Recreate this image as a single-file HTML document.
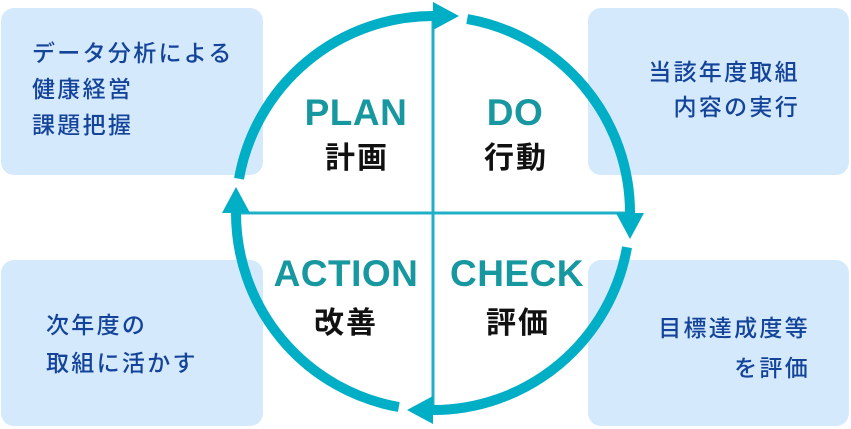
<!DOCTYPE html>
<html><head><meta charset="utf-8"><style>
body{margin:0;width:851px;height:429px;background:#fff;position:relative;overflow:hidden;font-family:"Liberation Sans","Noto Sans CJK JP",sans-serif}
.box{position:absolute;background:#d5e9fd;border-radius:13px}
.t{position:absolute;color:#13449a;font-size:23px;line-height:23px;letter-spacing:2.3px;white-space:nowrap;font-weight:500;font-family:"Liberation Sans","Noto Sans CJK JP",sans-serif}
.en{position:absolute;color:#17979f;font-weight:bold;font-size:37px;line-height:37px;width:200px;text-align:center;letter-spacing:0.5px}
.jp{position:absolute;color:#111;font-weight:bold;font-size:30px;line-height:30px;width:200px;text-align:center;font-family:"Noto Sans CJK JP",sans-serif;letter-spacing:2px}
svg{position:absolute;left:0;top:0}
</style></head><body>
<div class="box" style="left:1px;top:8px;width:262px;height:167px"></div>
<div class="box" style="left:1px;top:260px;width:262px;height:166px"></div>
<div class="box" style="left:588px;top:8px;width:261px;height:167px"></div>
<div class="box" style="left:588px;top:260px;width:261px;height:166px"></div>

<svg width="851" height="429" viewBox="0 0 851 429">
<line x1="433" y1="16" x2="433" y2="410" stroke="#1fb0c8" stroke-width="3"/>
<line x1="233" y1="213" x2="632" y2="213" stroke="#1fb0c8" stroke-width="3"/>
<g fill="none" stroke="#00aec5" stroke-width="10">
<path d="M239,178.8 A197 197 0 0 1 434 16"/>
<path d="M239,178.8 A197 197 0 0 1 434 16" transform="rotate(90 433 213)"/>
<path d="M239,178.8 A197 197 0 0 1 434 16" transform="rotate(180 433 213)"/>
<path d="M239,178.8 A197 197 0 0 1 434 16" transform="rotate(270 433 213)"/>
</g>
<g fill="#00aec5">
<polygon points="433,2 459,16 433,30"/>
<polygon points="433,2 459,16 433,30" transform="rotate(90 433 213)"/>
<polygon points="433,2 459,16 433,30" transform="rotate(180 433 213)"/>
<polygon points="433,2 459,16 433,30" transform="rotate(270 433 213)"/>
</g>
</svg>

<div class="t" style="left:32px;top:42px">データ分析による</div>
<div class="t" style="left:32px;top:78px">健康経営</div>
<div class="t" style="left:32px;top:114px">課題把握</div>

<div class="t" style="left:46px;top:314px">次年度の</div>
<div class="t" style="left:46px;top:352px">取組に活かす</div>

<div class="t" style="right:51px;top:61px">当該年度取組</div>
<div class="t" style="right:51px;top:96px">内容の実行</div>

<div class="t" style="right:41px;top:317px">目標達成度等</div>
<div class="t" style="right:41px;top:357px">を評価</div>

<div class="en" style="left:256px;top:94px">PLAN</div>
<div class="jp" style="left:257px;top:140px">計画</div>
<div class="en" style="left:415px;top:94px">DO</div>
<div class="jp" style="left:416px;top:140px">行動</div>
<div class="en" style="left:246px;top:255px">ACTION</div>
<div class="jp" style="left:246px;top:305px">改善</div>
<div class="en" style="left:417px;top:255px">CHECK</div>
<div class="jp" style="left:418px;top:305px">評価</div>
</body></html>
